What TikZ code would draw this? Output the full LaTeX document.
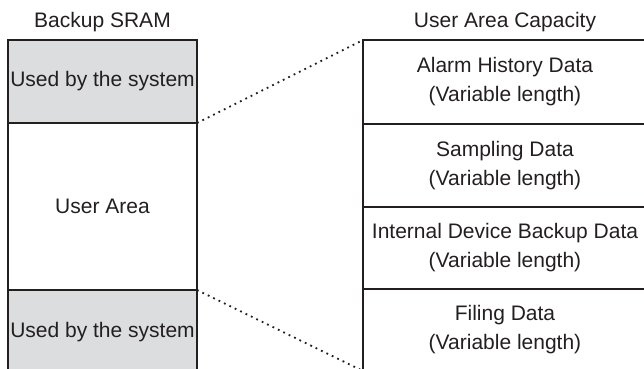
\documentclass[tikz,border=0pt]{standalone}
\usepackage{fontspec}
\setmainfont{Liberation Sans}
\definecolor{sysgray}{RGB}{220,221,223}
\definecolor{ink}{RGB}{35,31,32}
\begin{document}
\begin{tikzpicture}[x=1bp,y=-1bp,
  every node/.style={font=\fontsize{21bp}{29bp}\selectfont, text=ink},
  cell/.style={draw=ink, line width=1.5bp, inner sep=0pt, outer sep=0pt, align=center},
  sys/.style={cell, fill=sysgray},
  dots/.style={draw=ink, line width=1.8bp, dash pattern=on 1.8bp off 4.2bp}]
\useasboundingbox (0,0) rectangle (644,368);
% left column
\node[sys, minimum width=189bp, minimum height=83bp] (sysA) at (102.5,81.5) {Used by the system};
\node[cell, minimum width=189bp, minimum height=167bp] (user) at (102.5,206.5) {User Area};
\node[sys, minimum width=189bp, minimum height=84bp] (sysB) at (102.5,332) {Used by the system};
\node (titleL) at (102.5,22) {Backup SRAM};
% right column
\node[cell, minimum width=284bp, minimum height=84bp] (alarm) at (505,82) {Alarm History Data\\(Variable length)};
\node[cell, minimum width=284bp, minimum height=83bp] (samp) at (505,165.5) {Sampling Data\\(Variable length)};
\node[cell, minimum width=284bp, minimum height=82bp] (idev) at (505,248) {Internal Device Backup Data\\(Variable length)};
\node[cell, minimum width=284bp, minimum height=82bp] (filing) at (505,330) {Filing Data\\(Variable length)};
\node (titleR) at (505,22) {User Area Capacity};
% connectors
\draw[dots] (sysA.south east) -- (alarm.north west);
\draw[dots] (sysB.north east) -- (filing.south west);
\end{tikzpicture}
\end{document}
